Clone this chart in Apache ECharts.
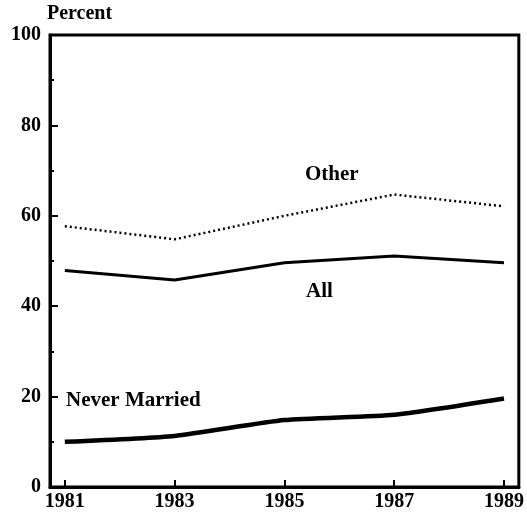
<!DOCTYPE html>
<html>
<head>
<meta charset="utf-8">
<script src="https://cdn.jsdelivr.net/npm/echarts@6/dist/echarts.min.js"></script>
<style>
  html, body { margin: 0; padding: 0; background: #fff; }
  #main { width: 527px; height: 518px; }
</style>
</head>
<body>
<div id="main"></div>
<script>
var years = [1981, 1983, 1985, 1987, 1989];
var tickYears = [1981, 1983, 1985, 1987, 1989];
var otherValues = [57.7, 54.8, 60.0, 64.7, 62.1];
var allValues = [47.9, 45.8, 49.6, 51.1, 49.6];
var neverMarriedValues = [10.0, 11.3, 14.8, 16.0, 19.6];

function pairs(vals) {
    return years.map(function (y, i) { return [y, vals[i]]; });
}

var myChart = echarts.init(document.getElementById('main'));
var font = '"Liberation Serif", "DejaVu Serif", serif';

var option = {
    animation: false,
    backgroundColor: '#fff',
    grid: {
        left: 50, right: 8, top: 35, bottom: 31,
        show: true, borderColor: '#000', borderWidth: 3
    },
    xAxis: {
        type: 'value',
        min: 1980.73,
        max: 1989.27,
        axisLine: { show: true, lineStyle: { color: '#000', width: 3 } },
        splitLine: { show: false },
        axisTick: {
            inside: true, length: 7,
            customValues: tickYears,
            lineStyle: { color: '#000', width: 2 }
        },
        axisLabel: {
            customValues: tickYears,
            color: '#000', fontFamily: font, fontWeight: 'bold', fontSize: 20,
            margin: 5,
            formatter: function (v) { return String(v); }
        }
    },
    yAxis: {
        type: 'value',
        min: 0, max: 100, interval: 20,
        axisLine: { show: true, lineStyle: { color: '#000', width: 3 } },
        splitLine: { show: false },
        axisTick: { inside: true, length: 8, lineStyle: { color: '#000', width: 2 } },
        minorTick: { show: true, splitNumber: 2, length: 4, lineStyle: { color: '#000', width: 2 } },
        axisLabel: {
            color: '#000', fontFamily: font, fontWeight: 'bold', fontSize: 20,
            margin: 9
        }
    },
    graphic: [
        { type: 'text', left: 47, top: 4,
          style: { text: 'Percent', fill: '#000', font: 'bold 20px ' + font } },
        { type: 'text', left: 305, top: 164,
          style: { text: 'Other', fill: '#000', font: 'bold 21px ' + font } },
        { type: 'text', left: 306, top: 281,
          style: { text: 'All', fill: '#000', font: 'bold 21px ' + font } },
        { type: 'text', left: 66, top: 390,
          style: { text: 'Never Married', fill: '#000', font: 'bold 21px ' + font } }
    ],
    series: [
        {
            name: 'Other', type: 'line', data: pairs(otherValues),
            symbol: 'none',
            lineStyle: { color: '#000', width: 2.5, type: [2, 3] }
        },
        {
            name: 'All', type: 'line', data: pairs(allValues),
            symbol: 'none',
            lineStyle: { color: '#000', width: 3 }
        },
        {
            name: 'Never Married', type: 'line', data: pairs(neverMarriedValues),
            symbol: 'none', smooth: 0.2,
            lineStyle: { color: '#000', width: 4.5 }
        }
    ]
};

myChart.setOption(option);
</script>
</body>
</html>
